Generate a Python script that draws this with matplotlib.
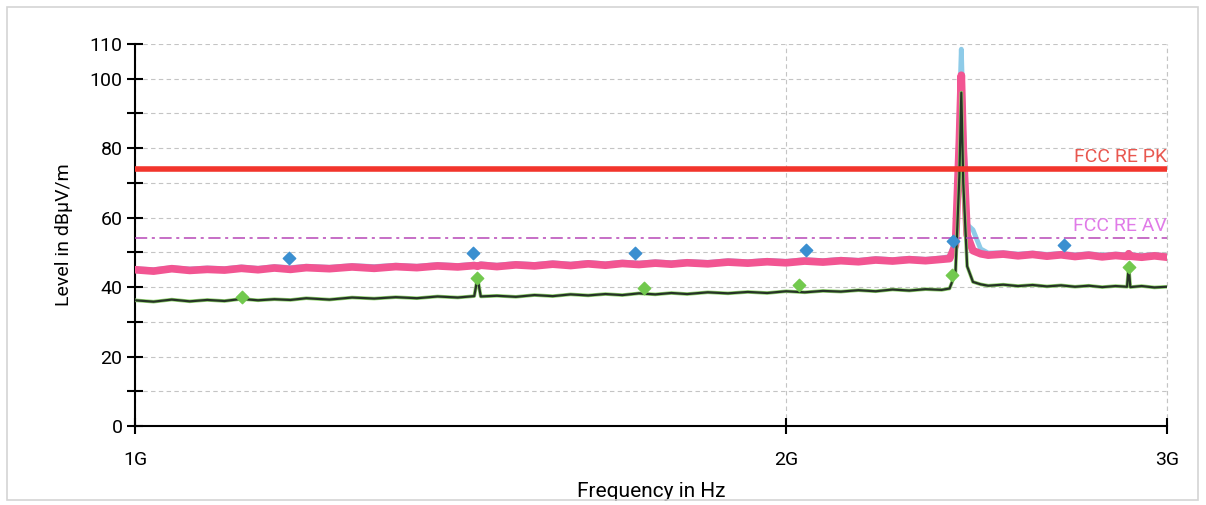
import numpy as np
import matplotlib
matplotlib.use("Agg")
import matplotlib.pyplot as plt
from matplotlib.patches import Rectangle

plt.rcParams['font.family'] = ['Roboto', 'DejaVu Sans']

# frequency points of the scan (GHz)
freq_ghz = [1.00, 1.02, 1.04, 1.06, 1.08, 1.10, 1.12, 1.14, 1.16, 1.18,
            1.20, 1.23, 1.26, 1.29, 1.32, 1.35, 1.38, 1.41, 1.435, 1.44,
            1.445, 1.47, 1.50, 1.53, 1.56, 1.59, 1.62, 1.65, 1.68, 1.71,
            1.74, 1.77, 1.80, 1.84, 1.88, 1.92, 1.96, 2.00, 2.04, 2.08,
            2.12, 2.16, 2.20, 2.24, 2.28, 2.32, 2.36, 2.38, 2.395, 2.405,
            2.41, 2.415, 2.425, 2.44, 2.46, 2.48, 2.52, 2.56, 2.60, 2.64,
            2.68, 2.72, 2.76, 2.80, 2.84, 2.875, 2.88, 2.885, 2.92, 2.96, 3.00]

# peak detector trace (pink)
peak_level = [45.0, 44.6, 45.3, 44.8, 45.1, 44.9, 45.4, 45.0, 45.5, 45.1,
              45.6, 45.3, 45.8, 45.4, 45.9, 45.6, 46.1, 45.8, 46.2, 46.0,
              46.3, 45.9, 46.4, 46.1, 46.6, 46.2, 46.7, 46.3, 46.8, 46.5,
              46.9, 46.6, 47.0, 46.7, 47.2, 46.9, 47.3, 47.0, 47.5, 47.2,
              47.6, 47.3, 47.8, 47.5, 47.9, 47.6, 48.0, 48.2, 52.0, 82.0,
              101.0, 80.0, 55.0, 50.5, 49.6, 49.2, 49.5, 49.0, 49.4, 48.9,
              49.3, 48.8, 49.2, 48.7, 49.1, 48.8, 49.6, 48.9, 48.6, 49.0, 48.6]

# max hold trace (light blue)
maxhold_level = [45.3, 45.0, 45.6, 45.2, 45.5, 45.3, 45.8, 45.4, 45.9, 45.6,
                 46.0, 45.7, 46.2, 45.9, 46.3, 46.0, 46.5, 46.2, 46.6, 46.4,
                 46.7, 46.3, 46.8, 46.5, 47.0, 46.6, 47.1, 46.7, 47.2, 46.9,
                 47.3, 47.0, 47.4, 47.1, 47.6, 47.3, 47.7, 47.4, 47.9, 47.6,
                 48.0, 47.7, 48.2, 47.9, 48.3, 48.0, 48.4, 48.8, 54.0, 90.0,
                 108.5, 88.0, 58.0, 56.5, 51.0, 49.8, 49.9, 49.5, 49.8, 49.4,
                 49.7, 49.3, 49.6, 49.2, 49.5, 49.3, 50.0, 49.3, 49.1, 49.4, 49.0]

# average detector trace (dark)
avg_level = [36.2, 35.8, 36.4, 35.9, 36.3, 36.0, 36.6, 36.2, 36.5, 36.3,
             36.8, 36.4, 37.0, 36.7, 37.1, 36.8, 37.3, 37.0, 37.4, 42.6,
             37.3, 37.5, 37.2, 37.7, 37.4, 37.9, 37.6, 38.0, 37.7, 38.2,
             37.9, 38.3, 38.0, 38.5, 38.2, 38.6, 38.3, 38.8, 38.5, 38.9,
             38.7, 39.1, 38.8, 39.3, 39.0, 39.4, 39.2, 39.6, 44.0, 72.0,
             96.0, 70.0, 46.0, 41.5, 40.8, 40.4, 40.7, 40.3, 40.6, 40.2,
             40.5, 40.1, 40.4, 40.0, 40.3, 40.1, 45.8, 40.0, 40.3, 39.9, 40.1]

# final measurement points
pk_marker_f = [1.178, 1.433, 1.702, 2.043, 2.389, 2.688]
pk_marker_v = [48.4, 49.8, 49.8, 50.7, 53.3, 52.1]
av_marker_f = [1.121, 1.439, 1.720, 2.027, 2.385, 2.881]
av_marker_v = [37.1, 42.6, 39.7, 40.6, 43.5, 45.8]

# limits
limit_pk = 74
limit_av = 54

freq_hz = np.array(freq_ghz) * 1e9

fig = plt.figure(figsize=(12.06, 5.05), dpi=100)
fig.patches.append(Rectangle((7 / 1206, 5 / 505), 1191 / 1206, 493 / 505,
                             transform=fig.transFigure, fill=False,
                             edgecolor="#d4d4d4", linewidth=1.2))
ax = fig.add_axes([0.1119, 0.1564, 0.8558, 0.7565])

ax.plot(freq_hz, maxhold_level, color="#8ecbe8", linewidth=3.5, zorder=2)
ax.plot(freq_hz, peak_level, color="#f25592", linewidth=5.5, zorder=3)
ax.plot(freq_hz, avg_level, color="#8fd16c", linewidth=2.6, zorder=4)
ax.plot(freq_hz, avg_level, color="#263326", linewidth=1.6, zorder=4)

ax.axhline(limit_pk, color="#f2352c", linewidth=4, zorder=5)
ax.axhline(limit_av, color="#b646b6", linewidth=1.1,
           linestyle=(0, (8, 3, 2, 3)), zorder=5)

ax.scatter(np.array(pk_marker_f) * 1e9, pk_marker_v, marker="D", s=40,
           color="#3a8fd0", zorder=6)
ax.scatter(np.array(av_marker_f) * 1e9, av_marker_v, marker="D", s=40,
           color="#72c94e", zorder=6)

ax.text(3e9, limit_pk + 1, "FCC RE PK", color="#e8574f", fontsize=14,
        ha="right", va="bottom")
ax.text(3e9, limit_av + 1, "FCC RE AV", color="#e07be8", fontsize=14,
        ha="right", va="bottom")

ax.set_xscale("log")
ax.set_xlim(1e9, 3e9)
ax.set_ylim(0, 110)
ax.set_xticks([1e9, 2e9, 3e9])
ax.set_xticklabels(["1G", "2G", "3G"])
ax.xaxis.set_minor_locator(matplotlib.ticker.NullLocator())
ax.set_yticks(range(0, 111, 10))
ax.set_yticklabels(["0", "", "20", "", "40", "", "60", "", "80", "", "100", "110"])

ax.tick_params(axis="both", direction="inout", length=12, width=1.5,
               labelsize=14, colors="black")
ax.tick_params(axis="y", pad=3)
ax.tick_params(axis="x", pad=12)

ax.grid(True, color="#c4c4c4", linestyle=(0, (4, 3)), linewidth=0.8)
ax.axvline(3e9, color="#c4c4c4", linestyle=(0, (4, 3)), linewidth=0.8,
           clip_on=False, zorder=1)
for side in ["top", "right"]:
    ax.spines[side].set_visible(False)
for side in ["left", "bottom"]:
    ax.spines[side].set_linewidth(1.5)

ax.set_xlabel("Frequency in Hz", fontsize=15, labelpad=9)
ax.set_ylabel("Level in dBµV/m", fontsize=14, labelpad=12)

fig.savefig("out.png", dpi=100)
